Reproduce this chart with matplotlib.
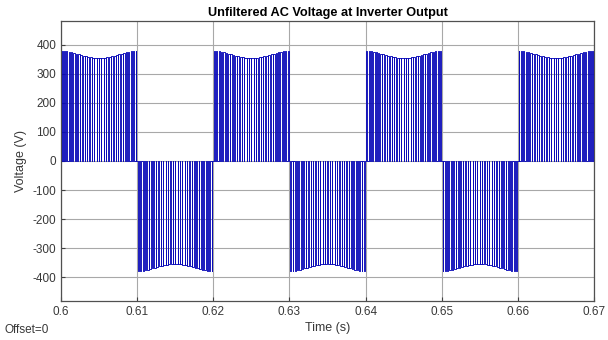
import numpy as np
import matplotlib
matplotlib.use('Agg')
import matplotlib.pyplot as plt

plt.rcParams['font.family'] = ['Liberation Sans', 'DejaVu Sans']
plt.rcParams['axes.unicode_minus'] = False

# ---- data ----
t_start = 0.60
half_period = 0.01
half_signs = [1, -1, 1, -1, 1, -1, 1]          # polarity of each half cycle
# pulse amplitude (V) of each switching pulse inside one half cycle
pulse_tops = [379, 378, 378, 377, 375, 373, 370, 368, 365, 363, 361, 359, 357, 356, 355, 355,
              355, 355, 356, 357, 359, 361, 363, 365, 368, 370, 373, 375, 377, 378, 378, 379]
# on-fraction of each switching period inside one half cycle
pulse_duty = [0.30, 0.38, 0.46, 0.54, 0.61, 0.67, 0.73, 0.78, 0.82, 0.86, 0.89, 0.91, 0.93, 0.94, 0.95, 0.95,
              0.95, 0.95, 0.94, 0.93, 0.91, 0.89, 0.86, 0.82, 0.78, 0.73, 0.67, 0.61, 0.54, 0.46, 0.38, 0.30]
x_ticks = [0.60, 0.61, 0.62, 0.63, 0.64, 0.65, 0.66, 0.67]
x_tick_labels = ['0.6', '0.61', '0.62', '0.63', '0.64', '0.65', '0.66', '0.67']
y_ticks = [-400, -300, -200, -100, 0, 100, 200, 300, 400]

# ---- build the step waveform from the pulse lists ----
n_p = len(pulse_tops)
ts = half_period / n_p
t_pts, v_pts = [], []
for h, s in enumerate(half_signs):
    t0 = t_start + h * half_period
    for k in range(n_p):
        c = t0 + (k + 0.5) * ts
        w = pulse_duty[k] * ts
        a, b = c - w / 2, c + w / 2
        amp = s * pulse_tops[k]
        t_pts += [a, a, b, b]
        v_pts += [0, amp, amp, 0]
t_pts = np.array(t_pts)
v_pts = np.array(v_pts)

fig = plt.figure(figsize=(6.08, 3.40), dpi=100)
ax = fig.add_axes([0.1003, 0.115, 0.8767, 0.823])

ax.plot(t_pts, v_pts, color='#0a0ab8', lw=0.65, zorder=3)

ax.set_xlim(0.60, 0.67)
ax.set_ylim(-482, 482)
ax.set_xticks(x_ticks)
ax.set_xticklabels(x_tick_labels)
ax.set_yticks(y_ticks)
ax.grid(True, color='#a8a8a8', lw=0.8, zorder=1)
ax.tick_params(direction='in', length=3, colors='#404040', labelsize=8.5, labelcolor='#383838')
for sp in ax.spines.values():
    sp.set_color('#505050')
    sp.set_linewidth(0.9)

ax.set_title('Unfiltered AC Voltage at Inverter Output', fontsize=9.2, fontweight='bold', pad=4)
ax.set_xlabel('Time (s)', fontsize=9, color='#383838', labelpad=3)
ax.set_ylabel('Voltage (V)', fontsize=9, color='#383838', labelpad=4)
fig.text(0.008, 0.022, 'Offset=0', fontsize=8.5, color='#383838')

fig.savefig('out.png', dpi=100)
